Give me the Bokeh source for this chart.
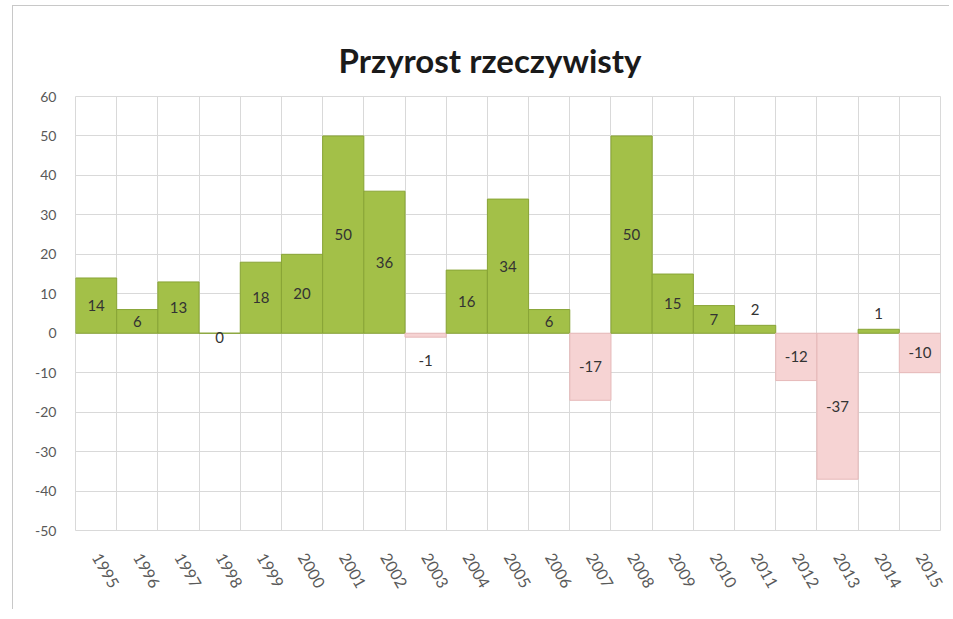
from bokeh.plotting import figure
from bokeh.models import FixedTicker, ColumnDataSource
from bokeh.core.properties import value
from bokeh.embed import file_html
from bokeh.resources import INLINE

years = ["1995", "1996", "1997", "1998", "1999", "2000", "2001", "2002", "2003", "2004", "2005",
         "2006", "2007", "2008", "2009", "2010", "2011", "2012", "2013", "2014", "2015"]
values = [14, 6, 13, 0, 18, 20, 50, 36, -1, 16, 34, 6, -17, 50, 15, 7, 2, -12, -37, 1, -10]
y_ticks = [-50, -40, -30, -20, -10, 0, 10, 20, 30, 40, 50, 60]
title_text = "Przyrost rzeczywisty"

FONT = "Lato"
idx = list(range(len(years)))
fill = ["#a3c048" if v >= 0 else "#f6d3d3" for v in values]
edge = ["#88a436" if v >= 0 else "#e6b9b9" for v in values]


def label_pos(v):
    if abs(v) >= 5:
        return v / 2
    if v > 0:
        return v + 4
    if v < 0:
        return v - 6
    return -1


src = ColumnDataSource(dict(
    x=idx, top=values, fill=fill, edge=edge,
    ly=[label_pos(v) for v in values], txt=[str(v) for v in values],
))

p = figure(width=937, height=604, x_range=(-0.5, len(years) - 0.5), y_range=(-50, 60),
           output_backend="svg", toolbar_location=None,
           min_border_left=62, min_border_right=10, min_border_top=90, min_border_bottom=80)
p.margin = (5, 0, 0, 12)
p.styles = {"border-left": "1px solid #c8c8c8", "border-top": "1px solid #c8c8c8"}

p.title.text = title_text
p.title.align = "left"
p.title.offset = 263
p.title.text_font = FONT
p.title.text_font_size = "33px"
p.title.text_font_style = "bold"
p.title.text_color = "#1a1a1a"
p.title.standoff = 33

p.vbar(x="x", top="top", bottom=0, width=1.0, source=src,
       fill_color="fill", line_color="edge", line_width=1)

p.text(x="x", y="ly", text="txt", source=src, text_align="center", text_baseline="middle",
       text_font=value(FONT), text_font_size="15px", text_color="#333333")

p.yaxis.ticker = FixedTicker(ticks=y_ticks)
p.yaxis.major_label_overrides = {t: str(t) for t in y_ticks}
p.xaxis.ticker = FixedTicker(ticks=idx)
p.xaxis.major_label_overrides = {i: y for i, y in enumerate(years)}
p.xaxis.major_label_orientation = -1.05
for ax in (p.xaxis, p.yaxis):
    ax.axis_line_color = None
    ax.major_tick_line_color = None
    ax.minor_tick_line_color = None
    ax.major_label_text_font = FONT
    ax.major_label_text_color = "#595959"
p.yaxis.major_label_text_font_size = "14px"
p.xaxis.major_label_text_font_size = "16px"
p.yaxis.major_label_standoff = 13
p.xaxis.major_label_standoff = 18

p.ygrid.grid_line_color = "#d9d9d9"
p.xgrid.grid_line_color = "#d9d9d9"
p.xgrid.ticker = FixedTicker(ticks=[i - 0.5 for i in range(len(years) + 1)])
p.outline_line_color = "#d9d9d9"
p.background_fill_color = "white"
p.border_fill_color = "white"

open("out.html", "w").write(file_html(p, INLINE))
